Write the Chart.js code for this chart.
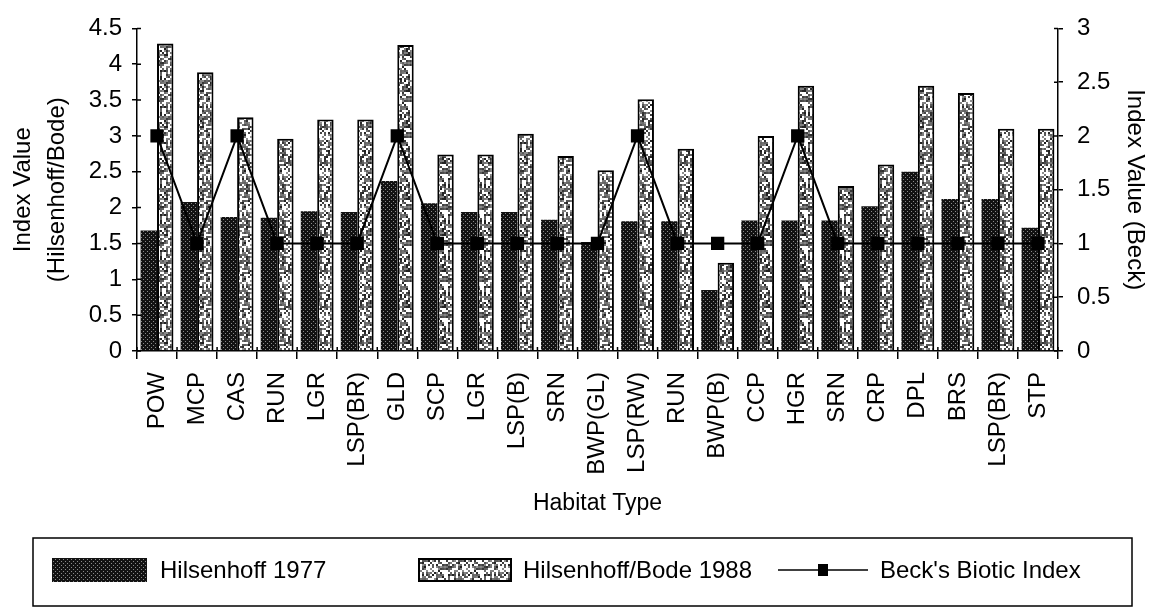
<!DOCTYPE html>
<html>
<head>
<meta charset="utf-8">
<title>Habitat Type index values</title>
<script src="https://cdn.jsdelivr.net/npm/chart.js@4.4.1/dist/chart.umd.min.js"></script>
<style>
  html, body { margin: 0; padding: 0; background: #fff; }
  #wrap { width: 1155px; height: 613px; }
</style>
</head>
<body>
<div id="wrap"><canvas id="c" width="1155" height="613"></canvas></div>
<script>
// Habitat categories along the x axis
const habitats = ['POW','MCP','CAS','RUN','LGR','LSP(BR)','GLD','SCP','LGR','LSP(B)','SRN','BWP(GL)',
                  'LSP(RW)','RUN','BWP(B)','CCP','HGR','SRN','CRP','DPL','BRS','LSP(BR)','STP'];

// Hilsenhoff 1977 index (left axis)
const hilsenhoff1977 = [1.68, 2.08, 1.87, 1.86, 1.95, 1.94, 2.37, 2.06, 1.94, 1.94, 1.83, 1.52,
                        1.81, 1.81, 0.85, 1.82, 1.82, 1.82, 2.02, 2.5, 2.12, 2.12, 1.72];

// Hilsenhoff/Bode 1988 index (left axis)
const hilsenhoffBode1988 = [4.29, 3.89, 3.26, 2.96, 3.23, 3.23, 4.27, 2.74, 2.74, 3.03, 2.72, 2.52,
                            3.51, 2.82, 1.23, 3.0, 3.7, 2.3, 2.6, 3.7, 3.6, 3.1, 3.1];

// Beck's Biotic Index (right axis)
const beckIndex = [2, 1, 2, 1, 1, 1, 2, 1, 1, 1, 1, 1, 2, 1, 1, 1, 2, 1, 1, 1, 1, 1, 1];

// Axis tick ranges
const leftTicks = { min: 0, max: 4.5, step: 0.5 };
const rightTicks = { min: 0, max: 3, step: 0.5 };

const FONT = "'Liberation Sans', Arial, Helvetica, sans-serif";
Chart.defaults.font.family = FONT;
Chart.defaults.color = '#000';

const canvas = document.getElementById('c');
const ctx2d = canvas.getContext('2d');

// tick values printed without trailing zeros: 4.5, 4, 3.5 ...
const plainNumber = v => String(Math.round(v * 10) / 10);

// small deterministic hash for the texture tiles
function hash(n) {
  const s = Math.sin(n * 127.1 + 311.7) * 43758.5453;
  return s - Math.floor(s);
}

// dark fill: near-black with a fine grid of light dots
function makeDarkPattern() {
  const c = document.createElement('canvas');
  c.width = 4; c.height = 4;
  const g = c.getContext('2d');
  g.fillStyle = '#121212';
  g.fillRect(0, 0, 4, 4);
  g.fillStyle = '#8a8a8a';
  g.fillRect(1, 1, 1, 1);
  g.fillRect(3, 3, 1, 1);
  return ctx2d.createPattern(c, 'repeat');
}

// light fill: white ground with grey speckles
function makeLightPattern() {
  const N = 36;
  const c = document.createElement('canvas');
  c.width = N; c.height = N;
  const g = c.getContext('2d');
  g.fillStyle = '#ffffff';
  g.fillRect(0, 0, N, N);
  for (let y = 0; y < N; y += 2) {
    for (let x = 0; x < N; x += 2) {
      const h = hash(x * 53 + y * 977 + 7);
      if (h < 0.56) {
        const v = Math.floor(30 + hash(x * 7 + y * 131 + 3) * 120);
        g.fillStyle = 'rgb(' + v + ',' + v + ',' + v + ')';
        g.fillRect(x, y, 2, 2);
      }
    }
  }
  return ctx2d.createPattern(c, 'repeat');
}

const darkFill = makeDarkPattern();
const lightFill = makeLightPattern();

// short tick marks on the inner side of each axis line
const innerTicks = {
  id: 'innerTicks',
  afterDatasetsDraw(chart) {
    const { ctx } = chart;
    const { x, y, y1 } = chart.scales;
    ctx.save();
    ctx.strokeStyle = '#000';
    ctx.lineWidth = 1.5;
    ctx.beginPath();
    y.ticks.forEach(t => {
      const p = y.getPixelForValue(t.value);
      ctx.moveTo(y.right, p); ctx.lineTo(y.right + 4, p);
    });
    y1.ticks.forEach(t => {
      const p = y1.getPixelForValue(t.value);
      ctx.moveTo(y1.left, p); ctx.lineTo(y1.left - 4, p);
    });
    for (let i = 0; i <= habitats.length; i++) {
      const p = x.getPixelForValue(i - 0.5);
      ctx.moveTo(p, x.top); ctx.lineTo(p, x.top - 4);
    }
    ctx.stroke();
    ctx.restore();
  }
};

// boxed legend drawn beneath the axis title
const boxedLegend = {
  id: 'boxedLegend',
  afterDraw(chart) {
    const ctx = chart.ctx;
    const ds = chart.data.datasets;
    const cy = 570;
    ctx.save();
    ctx.strokeStyle = '#000';
    ctx.lineWidth = 1.5;
    ctx.strokeRect(33, 538, 1099, 68);

    ctx.font = '24px ' + FONT;
    ctx.fillStyle = '#000';
    ctx.textBaseline = 'middle';
    ctx.textAlign = 'left';

    // Hilsenhoff 1977 swatch
    ctx.fillStyle = darkFill;
    ctx.fillRect(52, cy - 12, 95, 24);
    ctx.fillStyle = '#000';
    ctx.fillText(ds[0].label, 160, cy + 1);

    // Hilsenhoff/Bode 1988 swatch
    ctx.fillStyle = lightFill;
    ctx.fillRect(418, cy - 12, 94, 24);
    ctx.lineWidth = 2;
    ctx.strokeRect(419, cy - 11, 92, 22);
    ctx.fillStyle = '#000';
    ctx.fillText(ds[1].label, 523, cy + 1);

    // Beck's Biotic Index line sample
    ctx.lineWidth = 1.5;
    ctx.beginPath();
    ctx.moveTo(778, cy);
    ctx.lineTo(868, cy);
    ctx.stroke();
    ctx.fillRect(818, cy - 6, 10, 12);
    ctx.fillText(ds[2].label, 880, cy + 1);
    ctx.restore();
  }
};

new Chart(ctx2d, {
  data: {
    labels: habitats,
    datasets: [
      {
        type: 'bar',
        label: 'Hilsenhoff 1977',
        data: hilsenhoff1977,
        yAxisID: 'y',
        backgroundColor: darkFill,
        borderWidth: 0,
        order: 2
      },
      {
        type: 'bar',
        label: 'Hilsenhoff/Bode 1988',
        data: hilsenhoffBode1988,
        yAxisID: 'y',
        backgroundColor: lightFill,
        borderColor: '#000',
        borderWidth: 2,
        order: 2
      },
      {
        type: 'line',
        label: "Beck's Biotic Index",
        data: beckIndex,
        yAxisID: 'y1',
        borderColor: '#000',
        borderWidth: 2,
        backgroundColor: '#000',
        pointStyle: 'rect',
        pointRadius: 8,
        pointBackgroundColor: '#000',
        pointBorderColor: '#000',
        tension: 0,
        fill: false,
        order: 0
      }
    ]
  },
  options: {
    responsive: false,
    animation: false,
    devicePixelRatio: 1,
    layout: { padding: { top: 10, bottom: 93, left: 0, right: 0 } },
    datasets: {
      bar: { categoryPercentage: 0.82, barPercentage: 1.0 }
    },
    plugins: {
      legend: { display: false },
      tooltip: { enabled: false }
    },
    scales: {
      x: {
        offset: true,
        grid: { display: true, drawOnChartArea: false, drawTicks: true, tickLength: 8, color: '#000', lineWidth: 1.5, offset: true },
        border: { display: true, color: '#000', width: 1.5 },
        ticks: { autoSkip: false, minRotation: 90, maxRotation: 90, padding: 13, color: '#000', font: { size: 24 } },
        title: { display: true, text: 'Habitat Type', color: '#000', font: { size: 23 }, padding: { top: 0, bottom: 3 } },
        afterFit(scale) { scale.height = 169; }
      },
      y: {
        position: 'left',
        min: leftTicks.min,
        max: leftTicks.max,
        grid: { display: true, drawOnChartArea: false, drawTicks: true, tickLength: 5, color: '#000', lineWidth: 1.5 },
        border: { display: true, color: '#000', width: 1.5 },
        ticks: { stepSize: leftTicks.step, padding: 10, color: '#000', font: { size: 24 }, callback: plainNumber },
        title: { display: true, text: ['Index Value', '(Hilsenhoff/Bode)'], color: '#000', font: { size: 24, lineHeight: 1.42 }, padding: { top: 6, bottom: 0 } },
        afterFit(scale) { scale.width = 137; }
      },
      y1: {
        position: 'right',
        min: rightTicks.min,
        max: rightTicks.max,
        grid: { display: true, drawOnChartArea: false, drawTicks: true, tickLength: 5, color: '#000', lineWidth: 1.5 },
        border: { display: true, color: '#000', width: 1.5 },
        ticks: { stepSize: rightTicks.step, padding: 14, color: '#000', font: { size: 24 }, callback: plainNumber },
        title: { display: true, text: 'Index Value (Beck)', color: '#000', font: { size: 24 }, padding: { top: 6, bottom: 0 } },
        afterFit(scale) { scale.width = 97; }
      }
    }
  },
  plugins: [innerTicks, boxedLegend]
});
</script>
</body>
</html>
